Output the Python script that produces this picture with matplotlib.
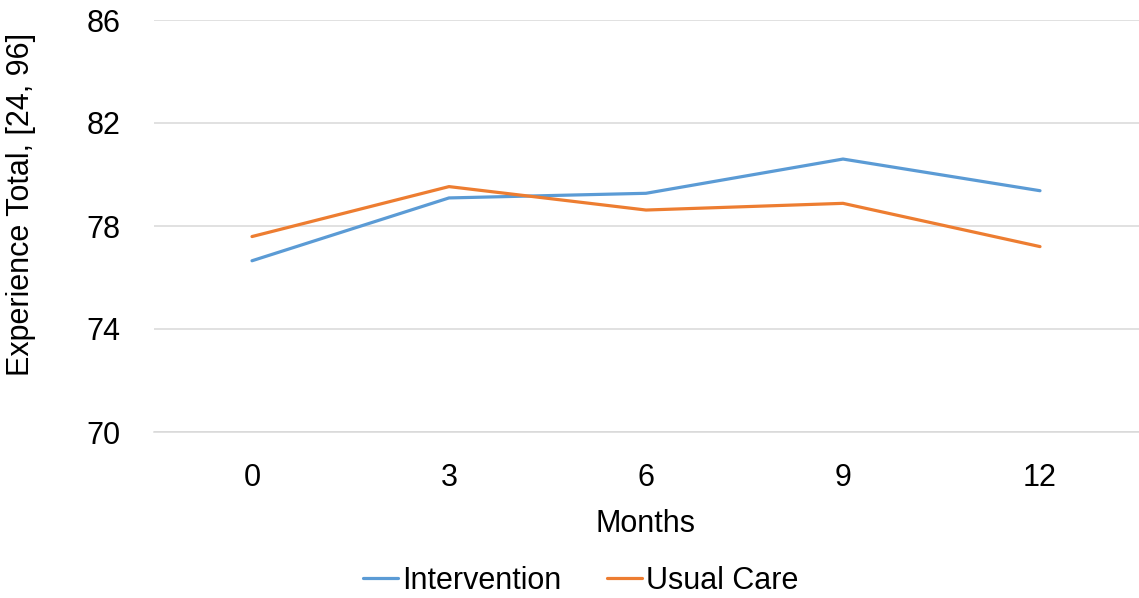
import matplotlib
matplotlib.use("Agg")
import matplotlib.pyplot as plt

months = ["0", "3", "6", "9", "12"]
intervention = [76.65, 79.09, 79.27, 80.60, 79.37]
usual_care = [77.59, 79.53, 78.62, 78.88, 77.20]
y_ticks = [70, 74, 78, 82, 86]

plt.rcParams['font.family'] = ['Liberation Sans', 'DejaVu Sans']

W, H = 1139, 598
fig = plt.figure(figsize=(W/100, H/100), dpi=100)
ax = fig.add_axes([153.5/W, 1-432/H, (1138.5-153.5)/W, (432-20)/H])

x = list(range(len(months)))
ax.plot(x, intervention, color="#5B9BD5", lw=2.3, label="Intervention", solid_capstyle="round")
ax.plot(x, usual_care, color="#ED7D31", lw=2.3, label="Usual Care", solid_capstyle="round")

ax.set_xlim(-0.5, len(months) - 0.5)
ax.set_ylim(70, 86)
ax.set_yticks(y_ticks)
ax.set_xticks(x)
ax.set_xticklabels(months)
ax.grid(axis="y", color="#D9D9D9", lw=1.1)
ax.set_axisbelow(True)
for s in ["top", "right", "left"]:
    ax.spines[s].set_visible(False)
ax.spines["bottom"].set_color("#D9D9D9")
ax.spines["bottom"].set_linewidth(1.1)
ax.tick_params(axis="both", length=0, labelsize=22, colors="#000000")
ax.tick_params(axis="y", pad=23.5)
ax.tick_params(axis="x", pad=22)

fig.text(264/W*0 + 646/W, 1-524/H, "Months", fontsize=22, ha="center", va="center")
fig.text(21/W, 1-204.5/H, "Experience Total, [24, 96]", fontsize=22, rotation=90,
         ha="center", va="center")

fig.legend(loc="center", bbox_to_anchor=(581/W, 1-581/H), ncol=2, frameon=False,
           fontsize=22, handlelength=1.15, handletextpad=0.13, columnspacing=1.5,
           borderpad=0, borderaxespad=0)

fig.savefig("out.png", dpi=100)
